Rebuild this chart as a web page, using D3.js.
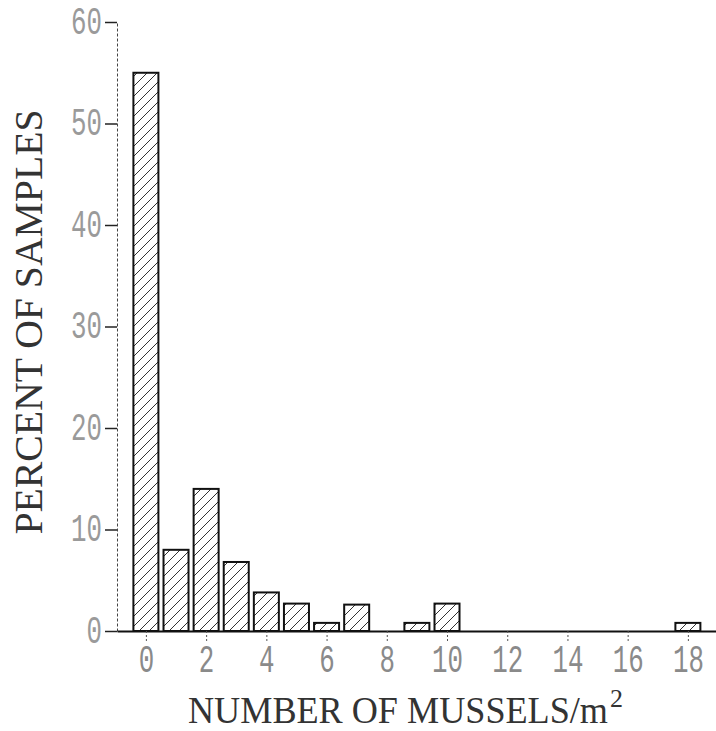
<!DOCTYPE html>
<html>
<head>
<meta charset="utf-8">
<script src="https://cdn.jsdelivr.net/npm/d3@7"></script>
<style>
  body { margin: 0; background: #fff; }
  svg { display: block; }
</style>
</head>
<body>
<script>
let w = 716;
let h = 731;

// mussels per m2 and percent of samples
let musselCounts = [0, 1, 2, 3, 4, 5, 6, 7, 8, 9, 10, 11, 12, 13, 14, 15, 16, 17, 18];
let percentSamples = [55, 8, 14, 6.8, 3.8, 2.7, 0.8, 2.6, 0, 0.8, 2.7, 0, 0, 0, 0, 0, 0, 0, 0.8];
let xTicks = [0, 2, 4, 6, 8, 10, 12, 14, 16, 18];
let yTicks = [0, 10, 20, 30, 40, 50, 60];

let monoFont = "'Liberation Mono', 'Courier New', monospace";
let titleFont = "'Liberation Serif', 'Times New Roman', serif";
let squeeze = 0.68; // plotter digits are narrow

let x = d3.scaleLinear().domain([-0.96, 19]).range([117, 718]);
let y = d3.scaleLinear().domain([0, 60]).range([631, 22]);
let barW = 25;

let svg = d3.select("body").append("svg").attr("width", w).attr("height", h);

let defs = svg.append("defs");
defs.append("pattern")
  .attr("id", "hatch")
  .attr("patternUnits", "userSpaceOnUse")
  .attr("width", 10)
  .attr("height", 10)
  .append("path")
  .attr("d", "M-1,1 l2,-2 M0,10 l10,-10 M9,11 l2,-2")
  .attr("stroke", "#333")
  .attr("stroke-width", 1);

// bars
let data = musselCounts.map((c, i) => ({ c: c, v: percentSamples[i] })).filter((d) => d.v > 0);

svg.append("g").selectAll("rect")
  .data(data)
  .enter()
  .append("rect")
  .attr("x", (d) => x(d.c) - barW / 2)
  .attr("y", (d) => y(d.v))
  .attr("width", barW)
  .attr("height", (d) => y(0) - y(d.v))
  .attr("fill", "url(#hatch)")
  .attr("stroke", "#111")
  .attr("stroke-width", 2);

// y axis
let yAxis = svg.append("g")
  .attr("transform", "translate(117,0)")
  .call(d3.axisLeft(y).tickValues(yTicks).tickSize(12).tickSizeOuter(0).tickPadding(2));
yAxis.select(".domain").attr("stroke", "#444").attr("stroke-dasharray", "3,2").attr("stroke-width", 1);
yAxis.selectAll(".tick line").attr("stroke", "#222").attr("stroke-width", 1.5);
yAxis.selectAll(".tick text")
  .attr("font-family", monoFont)
  .attr("font-size", 38)
  .attr("fill", "#9a9a9a")
  .attr("x", -15 / squeeze)
  .attr("dy", "0.3em")
  .attr("transform", `scale(${squeeze},1)`);

// x axis
let xAxis = svg.append("g")
  .attr("transform", "translate(0,631)")
  .call(d3.axisBottom(x).tickValues(xTicks).tickSize(10).tickSizeOuter(0).tickPadding(7));
xAxis.select(".domain").attr("stroke", "#111").attr("stroke-width", 2);
xAxis.selectAll(".tick line").attr("stroke", "#555").attr("stroke-dasharray", "2,2").attr("stroke-width", 1);
xAxis.selectAll(".tick text")
  .attr("font-family", monoFont)
  .attr("font-size", 38)
  .attr("fill", "#8a8a8a")
  .attr("dy", "0.62em")
  .attr("transform", `scale(${squeeze},1)`);

// axis titles
let xt = svg.append("text")
  .attr("x", 188)
  .attr("y", 723)
  .attr("font-family", titleFont)
  .attr("font-size", 37)
  .attr("fill", "#333");
xt.append("tspan")
  .attr("textLength", 420)
  .attr("lengthAdjust", "spacingAndGlyphs")
  .text("NUMBER OF MUSSELS/m");
xt.append("tspan").attr("font-size", 26).attr("dx", 2).attr("dy", -16).text("2");

svg.append("text")
  .attr("transform", "translate(42,322) rotate(-90)")
  .attr("text-anchor", "middle")
  .attr("font-family", titleFont)
  .attr("font-size", 39)
  .attr("fill", "#333")
  .attr("textLength", 425)
  .attr("lengthAdjust", "spacingAndGlyphs")
  .text("PERCENT OF SAMPLES");
</script>
</body>
</html>
